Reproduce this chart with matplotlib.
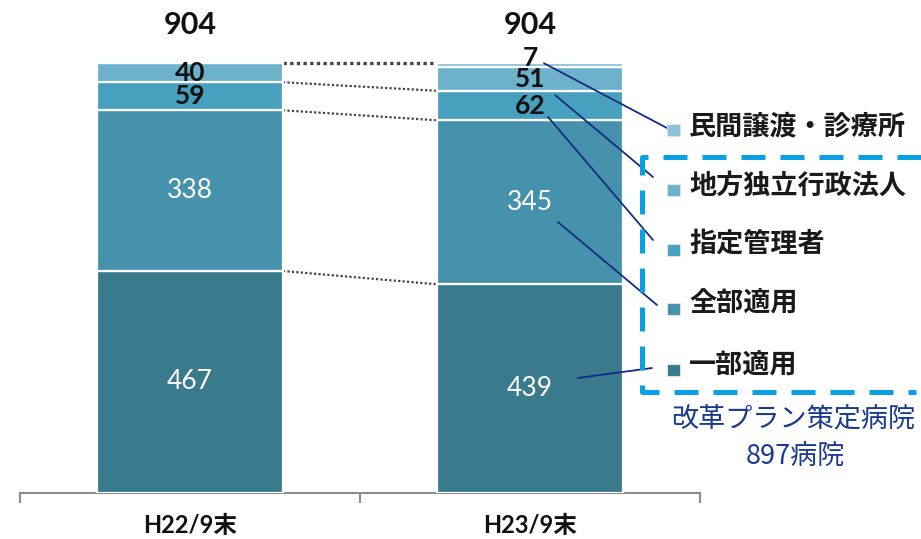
import matplotlib
matplotlib.use("Agg")
import matplotlib.pyplot as plt
from matplotlib.patches import Rectangle
from matplotlib.lines import Line2D

plt.rcParams['font.family'] = ['Lato', 'Noto Sans CJK JP', 'DejaVu Sans']

# ---- data ----
periods = ["H22/9末", "H23/9末"]
categories = ["一部適用", "全部適用", "指定管理者", "地方独立行政法人", "民間譲渡・診療所"]
ichibu = [467, 439]
zenbu = [338, 345]
shitei = [59, 62]
dokuhou = [40, 51]
minkan = [0, 7]
totals = [904, 904]
plan_caption = ["改革プラン策定病院", "897病院"]

series = [ichibu, zenbu, shitei, dokuhou, minkan]
colors = ["#3A7A8D", "#4692AD", "#47A1BE", "#6DB2CA", "#8CC2D5"]

W, H = 921, 539
fig = plt.figure(figsize=(W / 100, H / 100), dpi=100)
ax = fig.add_axes([20 / W, 46 / H, 680 / W, 493 / H])
ax.set_xlim(-0.5, 1.5)
ax.set_ylim(0, 1037)

bar_w = 0.547
x = [0, 1]
bottoms = [0, 0]
for vals, col in zip(series, colors):
    ax.bar(x, vals, bar_w, bottom=bottoms, color=col, edgecolor="white",
           linewidth=1.6, zorder=3)
    bottoms = [b + v for b, v in zip(bottoms, vals)]


def cum(idx, upto):
    """Cumulative height of bar idx up to and including series upto."""
    return sum(s[idx] for s in series[:upto + 1])


# white value labels on the large segments
for i in x:
    for k in (0, 1):
        mid = cum(i, k) - series[k][i] / 2
        ax.text(i, mid, str(series[k][i]), ha="center", va="center",
                color="white", fontsize=19, zorder=5)

# dark value labels on the thin segments
for i in x:
    for k in (2, 3):
        mid = cum(i, k) - series[k][i] / 2
        ax.text(i, mid, str(series[k][i]), ha="center", va="center",
                color="#111111", fontsize=19, fontweight="bold", zorder=5)
ax.text(1, totals[1] + 11, str(minkan[1]), ha="center", va="center",
        color="#111111", fontsize=19, fontweight="bold", zorder=5)

# totals above the bars
for i in x:
    ax.text(i, totals[i] + 80, str(totals[i]), ha="center", va="center",
            color="#111111", fontsize=22, fontweight="bold")

# dotted connectors between matching boundaries
for k, lw in ((4, 2.4), (2, 1.6), (1, 1.6), (0, 1.6)):
    ax.plot([bar_w / 2, 1 - bar_w / 2], [cum(0, k), cum(1, k)],
            linestyle=(0, (1, 1)), color="#444444", linewidth=lw, zorder=2)

# axis styling
for s in ("top", "right", "left"):
    ax.spines[s].set_visible(False)
ax.spines["bottom"].set_color("#8C8C8C")
ax.spines["bottom"].set_linewidth(1.5)
ax.set_yticks([])
ax.set_xticks(x)
ax.set_xticklabels(periods, fontsize=17, fontweight="bold", color="#111111")
ax.tick_params(axis="x", length=0, pad=15)
ax.set_xticks([-0.5, 0.5, 1.5], minor=True)
ax.tick_params(axis="x", which="minor", length=7, width=1.5, color="#8C8C8C",
               direction="out")


def fpx(px, py):
    return (px / W, 1 - py / H)


# legend on the right
cjk = ['Noto Sans CJK JP', 'DejaVu Sans']
leg_text_y = [366, 304, 244, 185, 126]
leg_box_y = [370, 309, 250, 190, 130]
for name, col, ty, by in zip(categories, colors, leg_text_y, leg_box_y):
    fig.patches.append(Rectangle(fpx(667, by + 6), 13 / W, 12 / H,
                                 transform=fig.transFigure, facecolor=col,
                                 edgecolor="#D8E6EC", linewidth=0.8))
    fig.text(*fpx(689, ty), name, ha="left", va="center", fontsize=19.5,
             fontweight="bold", color="#1A1A1A", family=cjk)

# leader lines from the right bar to the legend
navy = "#0F2D86"
leaders = [
    ((1.041, totals[1]), (667, 128)),
    ((1.074, cum(1, 3) - 60), (653, 177)),
    ((1.053, cum(1, 2) - 55), (653, 240)),
    ((1.082, cum(1, 1) - 214), (657, 305)),
    ((1.141, cum(1, 0) - 197), (652, 368)),
]
for (dx, dy), (px, py) in leaders:
    ax.annotate("", xy=fpx(px, py), xycoords="figure fraction",
                xytext=(dx, dy), textcoords="data",
                arrowprops=dict(arrowstyle="-", color=navy, lw=1.3,
                                shrinkA=0, shrinkB=0),
                annotation_clip=False, zorder=6)

# dashed frame around the reform-plan group
fx, fy = zip(*[fpx(921, 157), fpx(642, 157), fpx(642, 392), fpx(916, 392)])
fig.lines.append(Line2D(fx, fy, transform=fig.transFigure, color="#0AA0E4",
                        linewidth=3.6, linestyle=(0, (4.8, 3.0)),
                        solid_capstyle="butt", dash_capstyle="butt"))

fig.text(*fpx(793, 419), plan_caption[0], ha="center", va="center",
         fontsize=19.5, color="#1A3A8F", family=cjk)
fig.text(*fpx(795, 456), plan_caption[1], ha="center", va="center",
         fontsize=19.5, color="#1A3A8F", family=cjk)

fig.savefig("out.png", dpi=100)
